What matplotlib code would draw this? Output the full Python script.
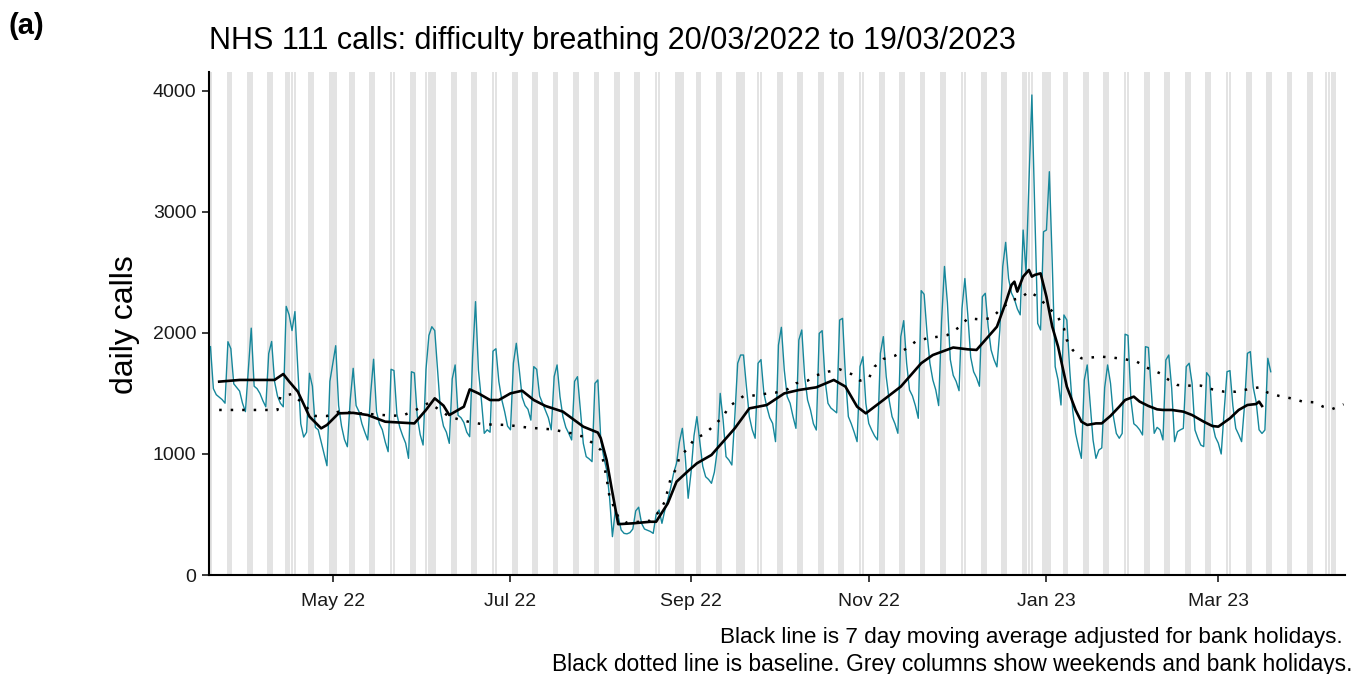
import pandas as pd
import matplotlib
matplotlib.use('Agg')
import matplotlib.pyplot as plt
import matplotlib.dates as mdates

plt.rcParams['font.family'] = ['Liberation Sans', 'DejaVu Sans']

# daily NHS 111 calls, one value per day from 20/03/2022 (a Sunday), then Mon..Sun rows
start_date = '2022-03-20'
daily_calls = [
    1887,
    1540, 1490, 1470, 1450, 1420, 1928, 1870,
    1580, 1550, 1520, 1420, 1350, 1700, 2040,
    1560, 1540, 1500, 1440, 1390, 1830, 1930,
    1600, 1480, 1420, 1390, 2220, 2150, 2020,
    2177, 1700, 1250, 1140, 1180, 1667, 1560,
    1220, 1200, 1100, 1000, 903, 1600, 1750,
    1895, 1400, 1230, 1120, 1060, 1450, 1708,
    1400, 1350, 1250, 1180, 1116, 1500, 1783,
    1350, 1250, 1200, 1100, 1019, 1700, 1690,
    1330, 1220, 1150, 1090, 964, 1680, 1670,
    1310, 1160, 1074, 1700, 1980, 2052, 2020,
    1690, 1350, 1230, 1180, 1088, 1620, 1736,
    1320, 1300, 1260, 1180, 1143, 1800, 2259,
    1694, 1450, 1171, 1200, 1180, 1850, 1870,
    1600, 1450, 1350, 1230, 1200, 1750, 1915,
    1700, 1470, 1400, 1370, 1280, 1722, 1700,
    1480, 1420, 1360, 1300, 1200, 1640, 1736,
    1474, 1309, 1220, 1171, 1116, 1600, 1639,
    1364, 1088, 978, 960, 937, 1584, 1612,
    1116, 978, 868, 647, 317, 537, 482,
    372, 344, 340, 350, 380, 530, 560,
    427, 380, 370, 360, 344, 500, 537,
    427, 537, 620, 720, 840, 923, 1100,
    1212, 978, 634, 850, 1150, 1309, 1100,
    900, 812, 790, 758, 850, 1033, 1501,
    1281, 978, 950, 909, 1300, 1750, 1818,
    1818, 1557, 1309, 1200, 1130, 1750, 1780,
    1500, 1391, 1300, 1253, 1102, 1900, 2047,
    1694, 1474, 1419, 1309, 1212, 1942, 2025,
    1639, 1446, 1364, 1250, 1198, 1997, 2019,
    1612, 1419, 1380, 1360, 1340, 2107, 2121,
    1639, 1309, 1250, 1180, 1102, 1722, 1804,
    1419, 1253, 1198, 1150, 1116, 1832, 1970,
    1639, 1446, 1309, 1250, 1171, 1970, 2102,
    1750, 1529, 1480, 1400, 1295, 2350, 2320,
    2000, 1750, 1612, 1530, 1400, 2100, 2550,
    2250, 1780, 1650, 1600, 1523, 2200, 2450,
    2150, 1800, 1680, 1630, 1560, 2300, 2328,
    2050, 1860, 1780, 1720, 2025, 2550, 2749,
    2450, 2330, 2280, 2200, 2150, 2851, 2500,
    3250, 3967, 3000, 2080, 2025, 2837, 2851,
    3333, 2576, 1722, 1612, 1405, 2149, 2107,
    1694, 1364, 1171, 1060, 964, 1612, 1736,
    1419, 1116, 964, 1033, 1050, 1550, 1736,
    1584, 1309, 1170, 1130, 1170, 1990, 1980,
    1450, 1250, 1230, 1200, 1157, 1887, 1880,
    1520, 1171, 1220, 1200, 1116, 1777, 1818,
    1543, 1102, 1185, 1200, 1212, 1722, 1750,
    1584, 1198, 1130, 1074, 1061, 1672, 1639,
    1250, 1140, 1090, 1000, 1350, 1680, 1689,
    1400, 1212, 1160, 1102, 1400, 1832, 1846,
    1550, 1430, 1200, 1170, 1198, 1791, 1680,
]

# 7 day moving average (days after start date, value)
ma_day = [3, 10, 17, 22, 25, 27, 30, 34, 38, 40, 44, 49, 54, 60, 65, 70, 74, 77, 80, 82,
          87, 89, 92, 96, 99, 103, 107, 111, 115, 121, 128, 133, 134, 136, 138, 140, 145, 151, 153, 157,
          160, 164, 167, 172, 176, 180, 185, 191, 197, 202, 208, 214, 218, 222, 225, 231, 237, 244, 248, 255,
          260, 263, 266, 270, 273, 275, 276, 277, 279, 281, 282, 283, 285, 287, 289, 291, 294, 297, 299, 301,
          304, 306, 309, 312, 314, 317, 319, 322, 325, 327, 330, 334, 337, 341, 344, 346, 350, 353, 356, 359,
          360, 361]
ma_value = [1598, 1612, 1612, 1612, 1661, 1600, 1515, 1309, 1212, 1240, 1336, 1340, 1322, 1267, 1260, 1253, 1364, 1460, 1400, 1322,
            1391, 1534, 1501, 1446, 1446, 1501, 1523, 1446, 1397, 1350, 1226, 1177, 1130, 950, 680, 420, 427, 440, 440, 592,
            771, 860, 923, 992, 1102, 1212, 1377, 1405, 1501, 1529, 1551, 1612, 1557, 1391, 1336, 1446, 1557, 1750, 1818, 1880,
            1865, 1860, 1942, 2052, 2250, 2397, 2424, 2342, 2466, 2521, 2466, 2480, 2493, 2300, 2052, 1887, 1557, 1364, 1267, 1240,
            1253, 1253, 1315, 1391, 1446, 1474, 1433, 1397, 1369, 1364, 1364, 1350, 1322, 1267, 1231, 1226, 1295, 1364, 1405, 1413,
            1433, 1397]

# baseline (days after start date, value)
baseline_day = [3, 23, 24, 28, 31, 36, 40, 44, 62, 66, 71, 75, 82, 86, 90, 94, 102, 109, 117, 120,
                124, 128, 131, 134, 135, 136, 137, 140, 143, 151, 154, 156, 157, 158, 160, 161, 164, 166, 170, 173,
                176, 178, 183, 186, 190, 194, 198, 201, 205, 208, 212, 216, 220, 223, 226, 228, 231, 235, 239, 242,
                246, 250, 253, 257, 260, 264, 268, 271, 275, 278, 281, 284, 288, 291, 293, 294, 296, 299, 303, 306,
                310, 314, 318, 322, 326, 329, 332, 336, 340, 344, 348, 352, 356, 360, 363, 367, 371, 375, 379, 382,
                385, 389]
baseline_value = [1364, 1364, 1474, 1496, 1433, 1314, 1314, 1350, 1317, 1317, 1370, 1424, 1309, 1281, 1259, 1245, 1240, 1218, 1204, 1190,
                  1171, 1143, 1094, 1033, 925, 800, 647, 480, 430, 449, 523, 606, 702, 799, 882, 978, 1047, 1121, 1171, 1240,
                  1309, 1391, 1479, 1482, 1496, 1507, 1534, 1584, 1606, 1650, 1680, 1700, 1661, 1606, 1625, 1722, 1785, 1812, 1873, 1928,
                  1956, 1970, 1983, 2047, 2121, 2113, 2121, 2190, 2273, 2287, 2342, 2300, 2204, 2129, 2039, 1942, 1860, 1791, 1799, 1804,
                  1796, 1783, 1763, 1708, 1667, 1612, 1570, 1565, 1565, 1534, 1515, 1515, 1534, 1551, 1507, 1479, 1460, 1433, 1427, 1391,
                  1370, 1411]

bank_holidays = ['2022-04-15', '2022-04-18', '2022-05-02', '2022-06-02', '2022-06-03',
                 '2022-08-29', '2022-09-19', '2022-12-26', '2022-12-27', '2023-01-02',
                 '2023-04-07', '2023-04-10']

start = pd.Timestamp(start_date)
dates = pd.date_range(start, periods=len(daily_calls), freq='D')
ma_dates = start + pd.to_timedelta(ma_day, unit='D')
base_dates = start + pd.to_timedelta(baseline_day, unit='D')

# weekends and bank holidays for the grey columns
all_days = pd.date_range('2022-03-20', '2023-04-13', freq='D')
grey_days = sorted(set(all_days[all_days.dayofweek >= 5]) | set(pd.to_datetime(bank_holidays)))

fig = plt.figure(figsize=(13.54, 6.74), dpi=100)
ax = fig.add_axes([209 / 1354, 99 / 674, 1136 / 1354, 503 / 674])

half = pd.Timedelta(hours=11.3)
for d in grey_days:
    ax.axvspan(d - half, d + half, color='#E3E3E3', lw=0, zorder=0)

ax.plot(dates, daily_calls, color='#16879B', lw=1.0, zorder=2)
ax.plot(ma_dates, ma_value, color='black', lw=1.9, zorder=3)
ax.plot(base_dates, baseline_value, color='black', lw=1.8,
        linestyle=(0, (1, 3.6)), zorder=4)

ax.set_xlim(pd.Timestamp('2022-03-19 12:00'), pd.Timestamp('2023-04-13 12:00'))
ax.set_ylim(0, 4157)
ax.set_yticks([0, 1000, 2000, 3000, 4000])
ax.xaxis.set_major_locator(mdates.MonthLocator(bymonth=[1, 3, 5, 7, 9, 11]))
ax.xaxis.set_major_formatter(mdates.DateFormatter('%b %y'))

for s in ['top', 'right']:
    ax.spines[s].set_visible(False)
for s in ['left', 'bottom']:
    ax.spines[s].set_linewidth(1.5)
ax.tick_params(length=5, width=1.2, labelsize=14, colors='#1a1a1a')
ax.tick_params(axis='x', pad=8)
ax.tick_params(axis='y', pad=4)

fig.text(9 / 1354, 1 - 26 / 674, '(a)', fontsize=21, fontweight='bold', va='center')
fig.text(209 / 1354, 1 - 41 / 674,
         'NHS 111 calls: difficulty breathing 20/03/2022 to 19/03/2023',
         fontsize=22, va='center', ha='left')
fig.text(125 / 1354, 1 - 325 / 674, 'daily calls', rotation=90, fontsize=23,
         va='center', ha='center')
fig.text(1343 / 1354, 1 - 638 / 674,
         'Black line is 7 day moving average adjusted for bank holidays.',
         fontsize=16.2, ha='right', va='center')
fig.text(1352 / 1354, 1 - 665 / 674,
         'Black dotted line is baseline. Grey columns show weekends and bank holidays.',
         fontsize=16.4, ha='right', va='center')

fig.savefig('out.png', dpi=100)
